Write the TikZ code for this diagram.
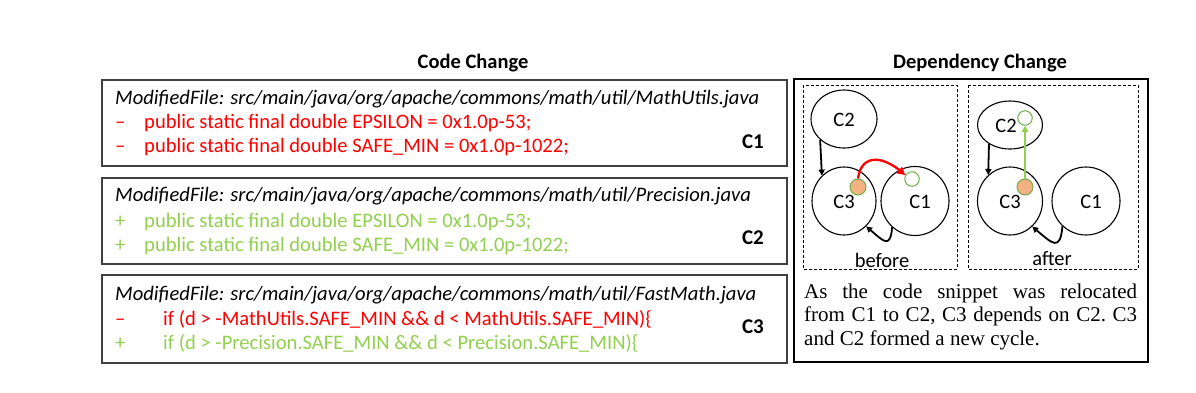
\documentclass[tikz,border=0pt]{standalone}
\usepackage{fontspec}
\setmainfont{Carlito}
\newfontfamily\tms{Liberation Serif}
\usetikzlibrary{arrows.meta,shapes.geometric}
\definecolor{cred}{HTML}{FF0000}
\definecolor{cgreen}{HTML}{92D050}
\definecolor{cdkgreen}{HTML}{70AD47}
\definecolor{corange}{HTML}{F4B183}
\definecolor{cframe}{HTML}{404040}
\tikzset{
  codebox/.style={draw=cframe, line width=1.6pt, anchor=north west, inner sep=0pt, minimum width=685pt},
  codetxt/.style={anchor=base west, inner sep=0pt, font=\fontsize{20.6}{24}\selectfont},
  pathtxt/.style={codetxt, font=\fontsize{20.6}{24}\selectfont\itshape},
  tagtxt/.style={anchor=center, inner sep=0pt, font=\fontsize{21}{24}\selectfont\bfseries},
  titletxt/.style={anchor=base, inner sep=0pt, font=\fontsize{20.5}{24}\selectfont\bfseries},
  comp/.style={draw, ellipse, line width=1.1pt, inner sep=0pt},
  comptxt/.style={inner sep=0pt, font=\fontsize{20.5}{24}\selectfont},
  dep/.style={line width=1.8pt, -{Triangle[length=6pt,width=6pt]}},
  dashbox/.style={draw, line width=0.9pt, dash pattern=on 3pt off 2pt},
  srcdot/.style={circle, draw=cdkgreen, fill=corange, line width=1pt, minimum size=16pt, inner sep=0pt},
  dstdot/.style={circle, draw=cdkgreen, line width=1pt, minimum size=14.5pt, inner sep=0pt},
}
\begin{document}
\begin{tikzpicture}[x=1pt,y=-1pt]
\useasboundingbox (0,0) rectangle (1196,392);
\fill[white] (0,0) rectangle (1196,392);

% titles
\node[titletxt] (t1) at (473,68) {Code Change};
\node[titletxt] (t2) at (980,68) {Dependency Change};

% code boxes
\node[codebox, minimum height=86pt] (b1) at (101,79) {};
\node[codebox, minimum height=86pt] (b2) at (101,177) {};
\node[codebox, minimum height=88pt] (b3) at (101,274) {};

% box 1
\node[pathtxt] (p1) at (115,104) {ModifiedFile: src/main/java/org/apache/commons/math/util/MathUtils.java};
\node[codetxt, text=cred] (m11) at (115,128) {–};
\node[codetxt, text=cred] (l11) at (144,128) {public static final double EPSILON = 0x1.0p-53;};
\node[codetxt, text=cred] (m12) at (115,152) {–};
\node[codetxt, text=cred] (l12) at (144,152) {public static final double SAFE\_MIN = 0x1.0p-1022;};
\node[tagtxt] (c1tag) at (753,142) {C1};

% box 2
\node[pathtxt] (p2) at (115,201) {ModifiedFile: src/main/java/org/apache/commons/math/util/Precision.java};
\node[codetxt, text=cgreen] (m21) at (115,227) {+};
\node[codetxt, text=cgreen] (l21) at (144,227) {public static final double EPSILON = 0x1.0p-53;};
\node[codetxt, text=cgreen] (m22) at (115,251) {+};
\node[codetxt, text=cgreen] (l22) at (144,251) {public static final double SAFE\_MIN = 0x1.0p-1022;};
\node[tagtxt] (c2tag) at (753,238) {C2};

% box 3
\node[pathtxt] (p3) at (115,300) {ModifiedFile: src/main/java/org/apache/commons/math/util/FastMath.java};
\node[codetxt, text=cred] (m31) at (115,325) {–};
\node[codetxt, text=cred] (l31) at (163,325) {if (d > -MathUtils.SAFE\_MIN \&\& d < MathUtils.SAFE\_MIN)\{};
\node[codetxt, text=cgreen] (m32) at (115,349) {+};
\node[codetxt, text=cgreen] (l32) at (163,349) {if (d > -Precision.SAFE\_MIN \&\& d < Precision.SAFE\_MIN)\{};
\node[tagtxt] (c3tag) at (753,327) {C3};

% dependency frame
\draw[black, line width=1.3pt] (794,79) rectangle (1148,362);
\draw[dashbox] (803,85) rectangle (957,269);
\draw[dashbox] (968,85) rectangle (1138,269);

% before
\node[comp, minimum width=66pt, minimum height=58pt] (C2b) at (844,119) {};
\node[comp, minimum width=64pt, minimum height=68pt] (C3b) at (844,201) {};
\node[comp, minimum width=68pt, minimum height=69pt] (C1b) at (915,201) {};
\node[comptxt] (C2bt) at (844,120) {C2};
\node[comptxt] (C3bt) at (844,202) {C3};
\node[comptxt] (C1bt) at (920,202) {C1};
\node[srcdot] (ob) at (858,187) {};
\node[dstdot] (gb) at (912,179) {};
\draw[dep] (C2b.221) -- (C3b.131);
\draw[dep] (C1b.229) to[out=-95,in=-40,looseness=2.2] (C3b.311);
\draw[cred, line width=2.3pt, -{Triangle[length=8pt,width=8pt]}] (ob.north) to[out=82,in=140,looseness=1.45] (gb.150);
\node[comptxt, anchor=base] (before) at (882,267) {before};

% after
\node[comp, minimum width=65pt, minimum height=48pt] (C2a) at (1010,125) {};
\node[comp, minimum width=65pt, minimum height=68pt] (C3a) at (1010,201) {};
\node[comp, minimum width=68pt, minimum height=68pt] (C1a) at (1086,201) {};
\node[comptxt] (C2at) at (1006,126) {C2};
\node[comptxt] (C3at) at (1010,202) {C3};
\node[comptxt] (C1at) at (1091,202) {C1};
\node[srcdot] (oa) at (1025,187) {};
\node[dstdot] (ga) at (1025,118) {};
\draw[dep] (C2a.222) -- (C3a.130);
\draw[dep] (C1a.227) to[out=-95,in=-40,looseness=2.2] (C3a.311);
\draw[cgreen, line width=2pt, -{Triangle[length=6pt,width=6pt]}] (oa.north) -- (ga.south);
\node[comptxt, anchor=base] (after) at (1052,265) {after};

% description
\node[anchor=north west, inner sep=0pt, text width=333pt, align=justify,
      font=\tms\fontsize{21}{23.5}\selectfont] (desc) at (804,283.5)
  {\frenchspacing\hyphenpenalty=10000 As the code snippet was relocated\linebreak from C1 to C2, C3 depends on C2. C3\linebreak and C2 formed a new cycle.};
\end{tikzpicture}
\end{document}
